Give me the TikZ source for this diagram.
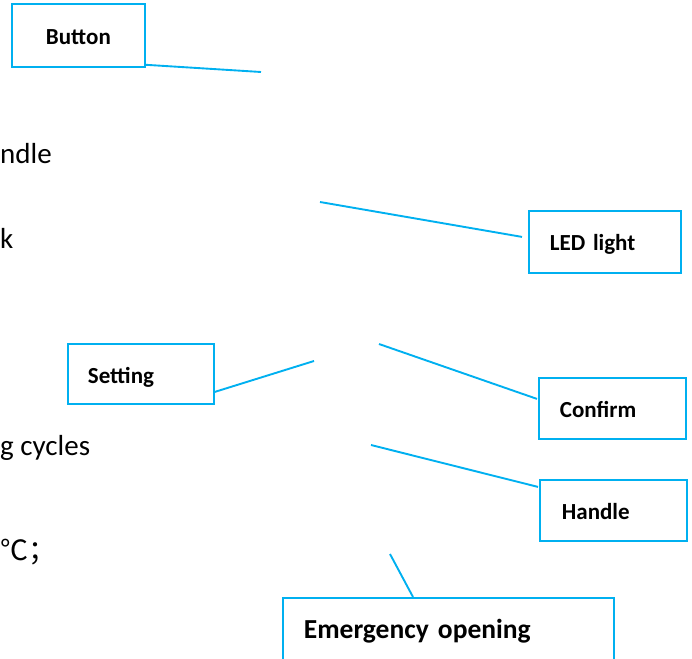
\documentclass[tikz,border=0pt]{standalone}
\usepackage{fontspec}
\setmainfont{Carlito}
\newfontfamily\cjkfont{Noto Sans CJK SC}
\usetikzlibrary{calc}
\definecolor{lineblue}{HTML}{00B0F0}
\begin{document}
\begin{tikzpicture}[x=1pt,y=-1pt,
  lbl/.style={draw=lineblue,line width=1.8pt,rectangle,anchor=north west,inner ysep=0pt,
    text height=18pt,text depth=0pt,
    font=\bfseries\fontsize{23}{27}\selectfont,align=left},
  conn/.style={draw=lineblue,line width=1.9pt},
  body/.style={anchor=base west,inner sep=0pt,font=\fontsize{29}{34}\selectfont}]
\useasboundingbox (0,0) rectangle (692,658);
% boxes
\node[lbl,minimum height=63pt,text width=133pt,inner xsep=0pt,align=center] (btn) at (11,3) {Button};
\node[lbl,minimum height=62pt,text width=110pt,inner xsep=21pt] (led) at (528,210) {LED light};
\node[lbl,minimum height=60pt,text width=106pt,inner xsep=20pt,text height=20pt] (set) at (67,343) {Setting};
\node[lbl,minimum height=61pt,text width=105pt,inner xsep=21pt,text height=19pt] (conf) at (538,377) {Confirm};
\node[lbl,minimum height=61pt,text width=103pt,inner xsep=22pt] (hand) at (539,479) {Handle};
\node[lbl,minimum height=68pt,text width=289pt,inner xsep=21pt,text height=14pt,
  font=\bfseries\fontsize{27.5}{32}\selectfont] (em) at (282,597) {Emergency opening};
% free ends
\coordinate (btnfree) at (261,72);
\coordinate (ledfree) at (320,202);
\coordinate (setfree) at (314,361);
\coordinate (conffree) at (379,344);
\coordinate (handfree) at (371,445);
\coordinate (emfree) at (390,554);
% connectors
\draw[conn] ($(btn.south east)+(0,-3)$) -- (btnfree);
\draw[conn] (ledfree) -- ($(led.west)+(-6,-5)$);
\draw[conn] ($(set.east)+(0,18)$) -- (setfree);
\draw[conn] (conffree) -- ($(conf.west)+(-1,-9.5)$);
\draw[conn] (handfree) -- ($(hand.west)+(-1,-23.5)$);
\draw[conn] (emfree) -- ($(em.north west)+(131,0)$);
% cut-off body text
\node[body] (t1) at (0,163) {ndle};
\node[body] (t2) at (0,248) {k};
\node[body] (t3) at (0,455) {g cycles};
\node[body,font=\cjkfont\fontsize{28}{34}\selectfont] (t4) at (0,560) {℃；};
\end{tikzpicture}
\end{document}
